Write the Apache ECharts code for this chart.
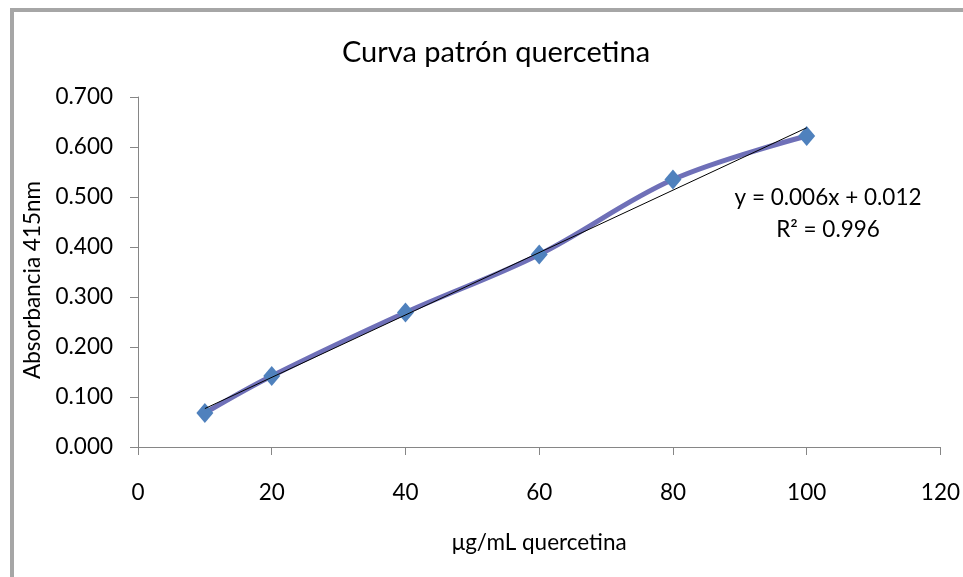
<!DOCTYPE html>
<html>
<head>
<meta charset="utf-8">
<script src="https://cdn.jsdelivr.net/npm/echarts@6/dist/echarts.min.js"></script>
<style>
html,body{margin:0;padding:0;background:#fff;}
#chart{width:963px;height:577px;}
</style>
</head>
<body>
<div id="chart"></div>
<script>
// Data
const concentrations = [10, 20, 40, 60, 80, 100];
const absorbance = [0.068, 0.142, 0.269, 0.385, 0.535, 0.622];
const xTicks = [0, 20, 40, 60, 80, 100, 120];
const yTicks = [0, 0.1, 0.2, 0.3, 0.4, 0.5, 0.6, 0.7];
const equationText = 'y = 0.006x + 0.012';
const r2Text = 'R² = 0.996';

// Least-squares linear trendline from the data
const n = concentrations.length;
const mx = concentrations.reduce((a, b) => a + b, 0) / n;
const my = absorbance.reduce((a, b) => a + b, 0) / n;
let sxy = 0, sxx = 0;
for (let i = 0; i < n; i++) {
  sxy += (concentrations[i] - mx) * (absorbance[i] - my);
  sxx += (concentrations[i] - mx) * (concentrations[i] - mx);
}
const slope = sxy / sxx;
const intercept = my - slope * mx;
const xMinD = Math.min(...concentrations), xMaxD = Math.max(...concentrations);
const trend = [[xMinD, intercept + slope * xMinD], [xMaxD, intercept + slope * xMaxD]];

const FONT = 'Lato';
const FS = 22.5;
const chart = echarts.init(document.getElementById('chart'));
chart.setOption({
  backgroundColor: '#ffffff',
  animation: false,
  textStyle: { fontFamily: FONT },
  title: {
    text: 'Curva patrón quercetina',
    left: 491, top: 33, textAlign: 'center',
    textStyle: { fontFamily: FONT, fontSize: 29, fontWeight: 'normal', color: '#000' }
  },
  grid: { left: 138, top: 97, width: 804, height: 350, containLabel: false },
  xAxis: {
    type: 'value', min: xTicks[0], max: xTicks[xTicks.length - 1], interval: 20,
    name: 'μg/mL quercetina', nameLocation: 'middle', nameGap: 84,
    nameTextStyle: { fontFamily: FONT, fontSize: FS, color: '#000' },
    axisLine: { show: true, lineStyle: { color: '#868686', width: 1 } },
    axisTick: { show: true, length: 8, lineStyle: { color: '#868686' } },
    axisLabel: { margin: 34, fontFamily: FONT, fontSize: FS, color: '#000' },
    splitLine: { show: false }
  },
  yAxis: {
    type: 'value', min: yTicks[0], max: yTicks[yTicks.length - 1], interval: 0.1,
    name: 'Absorbancia 415nm', nameLocation: 'middle', nameGap: 90, nameRotate: 90,
    nameTextStyle: { fontFamily: FONT, fontSize: FS, color: '#000', padding: [0, 16, 0, 0] },
    axisLine: { show: true, lineStyle: { color: '#868686', width: 1 } },
    axisTick: { show: true, length: 8, lineStyle: { color: '#868686' } },
    axisLabel: { margin: 25, fontFamily: FONT, fontSize: FS, color: '#000',
      formatter: v => v.toFixed(3) },
    splitLine: { show: false }
  },
  graphic: [
    { type: 'rect', shape: { x: 12, y: 10, width: 1200, height: 900 },
      style: { fill: 'none', stroke: '#a6a6a6', lineWidth: 4 }, silent: true },
    { type: 'text', x: 828, y: 198, style: { text: equationText, fontFamily: FONT, fontSize: FS,
      fill: '#000', textAlign: 'center', textVerticalAlign: 'middle' } },
    { type: 'text', x: 828, y: 230, style: { text: r2Text, fontFamily: FONT, fontSize: FS,
      fill: '#000', textAlign: 'center', textVerticalAlign: 'middle' } }
  ],
  series: [
    {
      type: 'line', name: 'Absorbancia',
      data: concentrations.map((x, i) => [x, absorbance[i]]),
      smooth: 0.35,
      symbol: 'diamond', symbolSize: [17, 20],
      lineStyle: { color: '#6F70B8', width: 5 },
      itemStyle: { color: '#4F81BD' },
      z: 2
    },
    {
      type: 'line', name: 'Tendencia',
      data: trend, symbol: 'none',
      lineStyle: { color: '#000', width: 1 },
      z: 3
    }
  ]
});
</script>
</body>
</html>
